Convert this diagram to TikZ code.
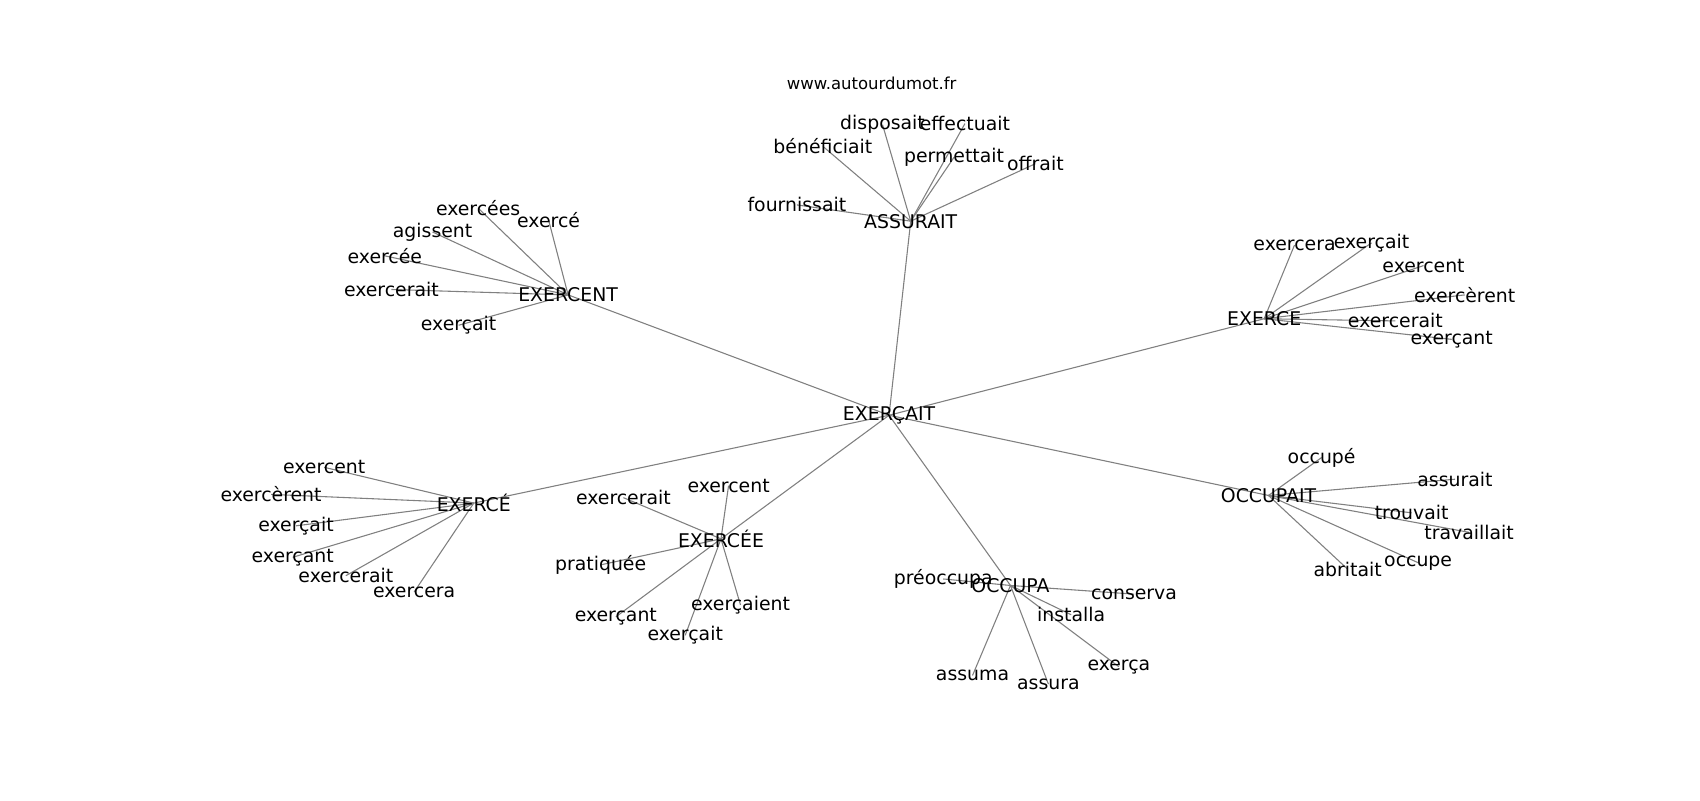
\documentclass[tikz,border=0pt]{standalone}
\usepackage{fontspec}
\setmainfont{DejaVu Sans}
\usepackage{xcolor}
\usepackage{tikz}
\usetikzlibrary{backgrounds}
\definecolor{edge}{HTML}{808080}
\definecolor{word}{HTML}{000000}

\tikzset{
  w/.style={inner sep=0pt, text=word, font=\fontsize{8.7}{10}\selectfont},
  link/.style={draw=edge, line width=0.5pt},
}

\begin{document}
\begin{tikzpicture}[x=0.5pt, y=-0.5pt]
\useasboundingbox (0,0) rectangle (1568,738);
% title
\node[inner sep=0pt, font=\fontsize{7.6}{9}\selectfont] (site) at (804,77) {www.autourdumot.fr};

% centre and hubs
\node[w] (exercait) at (820,383) {EXERÇAIT};
\node[w] (assurait) at (840,204) {ASSURAIT};
\node[w] (exercent) at (524,272) {EXERCENT};
\node[w] (exerce) at (1166,294) {EXERCE};
\node[w] (exerceM) at (437,464) {EXERCÉ};
\node[w] (exerceeF) at (665,497) {EXERCÉE};
\node[w] (occupa) at (932,540) {OCCUPA};
\node[w] (occupait) at (1170,457) {OCCUPAIT};

% ASSURAIT
\node[w] (as-disposait) at (814,115) {disposait};
\node[w] (as-effectuait) at (890,114) {effectuait};
\node[w] (as-beneficiait) at (759,135) {bénéficiait};
\node[w] (as-permettait) at (880,145) {permettait};
\node[w] (as-offrait) at (955,151) {offrait};
\node[w] (as-fournissait) at (735,189) {fournissait};

% EXERCENT
\node[w] (en-exercees) at (441,192) {exercées};
\node[w] (en-exerce) at (506,203) {exercé};
\node[w] (en-agissent) at (399,214) {agissent};
\node[w] (en-exercee) at (355,236) {exercée};
\node[w] (en-exercerait) at (361,267) {exercerait};
\node[w] (en-exercait) at (423,300) {exerçait};

% EXERCE
\node[w] (ex-exercera) at (1194,226) {exercera};
\node[w] (ex-exercait) at (1265,224) {exerçait};
\node[w] (ex-exercent) at (1313,245) {exercent};
\node[w] (ex-exercerent) at (1351,272) {exercèrent};
\node[w] (ex-exercerait) at (1287,296) {exercerait};
\node[w] (ex-exercant) at (1339,313) {exerçant};

% EXERCÉ
\node[w] (em-exercent) at (299,431) {exercent};
\node[w] (em-exercerent) at (250,456) {exercèrent};
\node[w] (em-exercait) at (273,485) {exerçait};
\node[w] (em-exercant) at (270,514) {exerçant};
\node[w] (em-exercerait) at (319,531) {exercerait};
\node[w] (em-exercera) at (382,546) {exercera};

% EXERCÉE
\node[w] (ef-exercent) at (672,448) {exercent};
\node[w] (ef-exercerait) at (575,459) {exercerait};
\node[w] (ef-pratiquee) at (554,521) {pratiquée};
\node[w] (ef-exercant) at (568,569) {exerçant};
\node[w] (ef-exercaient) at (683,558) {exerçaient};
\node[w] (ef-exercait) at (632,586) {exerçait};

% OCCUPA
\node[w] (oa-preoccupa) at (870,534) {préoccupa};
\node[w] (oa-conserva) at (1046,548) {conserva};
\node[w] (oa-installa) at (988,567) {installa};
\node[w] (oa-exerca) at (1032,615) {exerça};
\node[w] (oa-assuma) at (897,623) {assuma};
\node[w] (oa-assura) at (967,631) {assura};

% OCCUPAIT
\node[w] (ot-occupe) at (1219,422) {occupé};
\node[w] (ot-assurait) at (1342,442) {assurait};
\node[w] (ot-trouvait) at (1302,473) {trouvait};
\node[w] (ot-travaillait) at (1355,491) {travaillait};
\node[w] (ot-occupeV) at (1308,519) {occupe};
\node[w] (ot-abritait) at (1243,525) {abritait};

\begin{scope}[on background layer]
\foreach \h in {assurait, exercent, exerce, exerceM, exerceeF, occupa, occupait}
  \draw[link] (exercait.center) -- (\h.center);
\foreach \l in {disposait, effectuait, beneficiait, permettait, offrait, fournissait}
  \draw[link] (assurait.center) -- (as-\l.center);
\foreach \l in {exercees, exerce, agissent, exercee, exercerait, exercait}
  \draw[link] (exercent.center) -- (en-\l.center);
\foreach \l in {exercera, exercait, exercent, exercerent, exercerait, exercant}
  \draw[link] (exerce.center) -- (ex-\l.center);
\foreach \l in {exercent, exercerent, exercait, exercant, exercerait, exercera}
  \draw[link] (exerceM.center) -- (em-\l.center);
\foreach \l in {exercent, exercerait, pratiquee, exercant, exercaient, exercait}
  \draw[link] (exerceeF.center) -- (ef-\l.center);
\foreach \l in {preoccupa, conserva, installa, exerca, assuma, assura}
  \draw[link] (occupa.center) -- (oa-\l.center);
\foreach \l in {occupe, assurait, trouvait, travaillait, occupeV, abritait}
  \draw[link] (occupait.center) -- (ot-\l.center);
\end{scope}
\end{tikzpicture}
\end{document}
